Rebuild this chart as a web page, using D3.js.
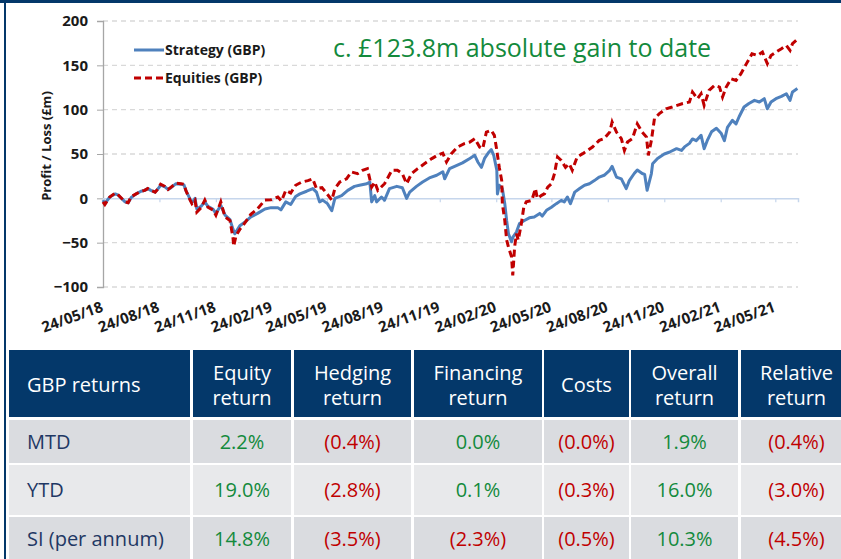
<!DOCTYPE html>
<html>
<head>
<meta charset="utf-8">
<script src="https://cdn.jsdelivr.net/npm/d3@7"></script>
<style>
  html, body { margin: 0; padding: 0; background: #ffffff; }
  svg { display: block; }
</style>
</head>
<body>
<svg id="chart" width="841" height="559"></svg>
<script>
// ---------------- DATA ----------------
const startDate = "2018-05-24";
const axisEndDate = "2021-06-30";
const tickDates = ["2018-05-24","2018-08-24","2018-11-24","2019-02-24","2019-05-24","2019-08-24",
                   "2019-11-24","2020-02-24","2020-05-24","2020-08-24","2020-11-24","2021-02-24","2021-05-24"];
const yTicks = [-100, -50, 0, 50, 100, 150, 200];
const seriesNames = ["Strategy (GBP)", "Equities (GBP)"];
const annotation = "c. £123.8m absolute gain to date";
const yTitle = "Profit / Loss (£m)";

// days since inception, P&L (£m)
const strategyDays = [0,3,11,20,24,36,41,46,54,62,68,73,78,85,90,94,101,106,111,119,127,132,135,142,145,150,153,160,166,171,179,184,192,199,207,212,215,223,231,241,252,264,274,285,290,298,306,314,321,332,342,348,353,358,366,373,378,389,399,410,418,430,435,438,443,446,454,459,467,479,488,495,500,511,521,532,544,554,557,565,576,586,598,606,611,617,622,629,633,637,642,643,646,651,655,658,661,666,668,674,679,687,695,703,712,716,723,731,739,747,752,757,762,769,777,785,793,801,809,817,826,830,837,845,853,858,866,871,879,883,887,894,896,904,915,923,935,943,948,956,961,967,975,980,985,992,1000,1008,1013,1018,1026,1032,1037,1045,1053,1062,1070,1078,1083,1089,1097,1106,1114,1120,1124,1132];
const strategyValues = [-2,-6,1.5,5,4,-4,-5,1,5,8,9,11,9,7,11,15,13,10,12,16.5,16,15,9,-1,-5,0,-12,-9,-4,-9,-12,-17,-8,-19,-24,-35,-40,-31,-27,-21,-17,-12,-10.5,-10.5,-13,-4,-7,2,5,8,11,7,-4,-2,-6,-14,0,3,9,13.5,14.7,16.5,18.4,-4,3,-4,1.5,-2,11,13.5,12,0,7,13.5,18.4,23,26,30,22,33.5,37,40,45,48.5,41,35,45,52,55,48.5,31.6,5,14.7,11,-6,-25,-40,-49,-44,-38,-28.5,-25,-22,-21,-17,-20,-13.5,-10,-6,-2.3,-4,1.5,-6,7,11,14.7,16.5,20,24,26,31.6,36,24,22,11,20,28,32,28,27,9,28,39,45,50,52,56,54,58,62,67,65,71,56,65,75,79,73,65,80,88,84,92,103,107,110.5,108.6,112.4,101,108.6,112.4,115,118,110.5,120,123.8];

const equitiesDays = [0,3,11,20,24,36,41,46,54,62,68,73,78,85,90,94,101,106,111,119,127,132,135,142,145,150,153,160,166,171,179,184,192,199,207,212,213,217,223,231,241,252,264,274,285,291,298,306,314,324,334,342,348,357,365,373,378,386,397,405,415,423,431,438,443,448,459,471,480,488,495,503,513,524,536,545,554,560,568,578,589,598,606,614,619,625,633,638,642,646,650,651,655,658,661,666,668,671,674,677,682,686,690,699,705,708,715,720,725,731,736,741,747,754,760,765,773,782,790,798,809,817,826,830,837,845,850,855,863,871,879,886,889,894,899,907,918,928,936,944,956,961,969,975,980,988,997,1005,1010,1016,1024,1032,1040,1049,1058,1067,1075,1083,1089,1097,1106,1114,1120,1124,1130];
const equitiesValues = [-4,-7,1.5,6,4.5,-4,-5,2,5,8,9,11,9,7,11,16,13.5,10,12.7,17,16.5,16,9,-2,-6,-2,-15.5,-10.5,-2,-10,-13,-19,-4,-21,-25,-45,-54,-42,-35,-28,-18,-11.7,-2,-1.5,1.5,-3,9,6,14.7,18.4,20,22,11,12,5.3,-2,11,18.4,22,29.7,27.8,31.6,33.5,12.7,18.4,9,16.5,31.6,31.6,27.8,16.5,27.8,33.5,39,44.8,48.5,51,41,50.4,57.8,61.7,63.5,67.3,57.8,56,74.7,76.7,71,54,35,20,-6,-25,-47,-55,-66,-87,-55,-40,-47,-28.5,-10,-4,-2.3,11,0,3.4,5.3,12.7,16.5,27.8,46.6,42.8,35,39,31.6,46.6,50.4,54,57.8,65.4,67.3,74.7,86,74.7,67.3,54,63.5,67.3,84,74.7,69,48.5,65.4,90,95.5,101,103,104.8,106.7,108.6,119.8,112.4,118,104.8,121.8,127.4,125.5,114.2,125.5,134.9,133,140.6,151.9,163.1,161.2,165,151.9,161.2,165,168.8,172.5,166.9,174.4,178.1];

// Table
const tableHeaders = [["GBP returns"], ["Equity","return"], ["Hedging","return"], ["Financing","return"], ["Costs"], ["Overall","return"], ["Relative","return"]];
const rowLabels = ["MTD", "YTD", "SI (per annum)"];
const equityReturn    = ["2.2%", "19.0%", "14.8%"];
const hedgingReturn   = ["(0.4%)", "(2.8%)", "(3.5%)"];
const financingReturn = ["0.0%", "0.1%", "(2.3%)"];
const costs           = ["(0.0%)", "(0.3%)", "(0.5%)"];
const overallReturn   = ["1.9%", "16.0%", "10.3%"];
const relativeReturn  = ["(0.4%)", "(3.0%)", "(4.5%)"];

// ---------------- DRAW ----------------
const svg = d3.select("#chart");
const NAVY = "#04386a";
const BLUE = "#4f81bd";
const RED = "#c00000";
const GREEN = "#138a3c";
const FONT = "'Open Sans', 'Noto Sans', sans-serif";

// frame
svg.append("rect").attr("x", 0).attr("y", 0).attr("width", 841).attr("height", 3).attr("fill", NAVY);
svg.append("rect").attr("x", 4).attr("y", 0).attr("width", 2).attr("height", 559).attr("fill", NAVY);

const parse = d3.utcParse("%Y-%m-%d");
const t0 = parse(startDate);
const x = d3.scaleUtc().domain([t0, parse(axisEndDate)]).range([103, 798]);
const y = d3.scaleLinear().domain([-100, 200]).range([287, 21]);

// gridlines
svg.append("g").selectAll("line").data(yTicks.filter(v => v !== 0)).join("line")
  .attr("x1", x.range()[0]).attr("x2", x.range()[1])
  .attr("y1", d => y(d)).attr("y2", d => y(d))
  .attr("stroke", "#d9d9d9").attr("stroke-width", 1.3).attr("stroke-dasharray", "5,4");

// y axis
const yAxis = svg.append("g").attr("transform", `translate(${x.range()[0]},0)`)
  .call(d3.axisLeft(y).tickValues(yTicks).tickSize(6).tickPadding(9));
yAxis.select(".domain").attr("stroke", "#a6a6a6").attr("stroke-width", 1.3);
yAxis.selectAll(".tick line").attr("stroke", "#a6a6a6");
yAxis.selectAll("text").attr("font-family", FONT).attr("font-weight", 700).attr("font-size", 15).attr("fill", "#1a1a1a");

// zero axis with date ticks
const xAxis = svg.append("g").attr("transform", `translate(0,${y(0)})`)
  .call(d3.axisBottom(x).tickValues(tickDates.map(parse)).tickSize(4).tickFormat(""));
xAxis.select(".domain").attr("stroke", "#c6d6ec").attr("stroke-width", 1.5);
xAxis.selectAll(".tick line").attr("stroke", "#c6d6ec").attr("stroke-width", 1.2);

// rotated date labels
const fmt = d3.utcFormat("%d/%m/%y");
svg.append("g").selectAll("text").data(tickDates.map(parse)).join("text")
  .attr("transform", d => `translate(${x(d) + 1},${311}) rotate(-20)`)
  .attr("text-anchor", "end")
  .attr("font-family", FONT).attr("font-weight", 700).attr("font-size", 15).attr("fill", "#1a1a1a")
  .text(d => fmt(d));

// y title
svg.append("text")
  .attr("transform", `translate(51,146) rotate(-90)`)
  .attr("text-anchor", "middle")
  .attr("font-family", FONT).attr("font-weight", 700).attr("font-size", 13).attr("fill", "#1a1a1a")
  .text(yTitle);

// lines
const line = d3.line().x(d => x(d[0])).y(d => y(d[1])).curve(d3.curveLinear);
const stratPts = strategyDays.map((dd, i) => [d3.utcDay.offset(t0, dd), strategyValues[i]]);
const eqPts = equitiesDays.map((dd, i) => [d3.utcDay.offset(t0, dd), equitiesValues[i]]);

svg.append("path").datum(stratPts).attr("d", line)
  .attr("fill", "none").attr("stroke", BLUE).attr("stroke-width", 3).attr("stroke-linejoin", "round");
svg.append("path").datum(eqPts).attr("d", line)
  .attr("fill", "none").attr("stroke", RED).attr("stroke-width", 3).attr("stroke-dasharray", "7,4");

// legend
const legend = svg.append("g");
const legendItems = [
  { name: seriesNames[0], color: BLUE, dash: null, y: 50 },
  { name: seriesNames[1], color: RED, dash: "7,4", y: 78 }
];
legend.selectAll("line").data(legendItems).join("line")
  .attr("x1", 134).attr("x2", 164).attr("y1", d => d.y).attr("y2", d => d.y)
  .attr("stroke", d => d.color).attr("stroke-width", 3).attr("stroke-dasharray", d => d.dash);
legend.selectAll("text").data(legendItems).join("text")
  .attr("x", 165).attr("y", d => d.y + 5)
  .attr("font-family", FONT).attr("font-weight", 700).attr("font-size", 14).attr("fill", "#1a1a1a")
  .text(d => d.name);

// annotation
svg.append("text").attr("x", 333).attr("y", 57)
  .attr("font-family", FONT).attr("font-size", 25).attr("fill", GREEN)
  .text(annotation);

// ---------------- TABLE ----------------
const colX = [9, 193, 294, 414, 544, 631, 741];
const colW = [181, 98, 117, 128, 85, 107, 111];
const headerTop = 350, headerH = 67;
const rowTop = [420, 465, 517];
const rowH = [43, 50, 44];
const rowFill = ["#dadce0", "#e8e9eb", "#dadce0"];
const valueCols = [equityReturn, hedgingReturn, financingReturn, costs, overallReturn, relativeReturn];

const table = svg.append("g");
table.selectAll("rect.h").data(tableHeaders).join("rect").attr("class", "h")
  .attr("x", (d, i) => colX[i]).attr("y", headerTop).attr("width", (d, i) => colW[i]).attr("height", headerH)
  .attr("fill", NAVY);

tableHeaders.forEach((lines, i) => {
  const t = table.append("text")
    .attr("font-family", FONT).attr("font-size", 20).attr("fill", "#ffffff")
    .attr("text-anchor", i === 0 ? "start" : "middle");
  const cx = i === 0 ? 27 : colX[i] + colW[i] / 2;
  if (lines.length === 1) {
    t.append("tspan").attr("x", cx).attr("y", 392).text(lines[0]);
  } else {
    t.append("tspan").attr("x", cx).attr("y", 380).text(lines[0]);
    t.append("tspan").attr("x", cx).attr("y", 405).text(lines[1]);
  }
});

rowLabels.forEach((lab, r) => {
  for (let c = 0; c < colX.length; c++) {
    table.append("rect").attr("x", colX[c]).attr("y", rowTop[r])
      .attr("width", colW[c]).attr("height", rowH[r]).attr("fill", rowFill[r]);
  }
  const cy = rowTop[r] + rowH[r] / 2;
  table.append("text").attr("x", 27).attr("y", cy).attr("dy", "0.35em")
    .attr("font-family", FONT).attr("font-size", 20).attr("fill", "#1f3864").text(lab);
  valueCols.forEach((col, c) => {
    const v = col[r];
    table.append("text").attr("x", colX[c + 1] + colW[c + 1] / 2).attr("y", cy).attr("dy", "0.35em")
      .attr("text-anchor", "middle")
      .attr("font-family", FONT).attr("font-size", 20)
      .attr("fill", v.startsWith("(") ? RED : GREEN).text(v);
  });
});
</script>
</body>
</html>
